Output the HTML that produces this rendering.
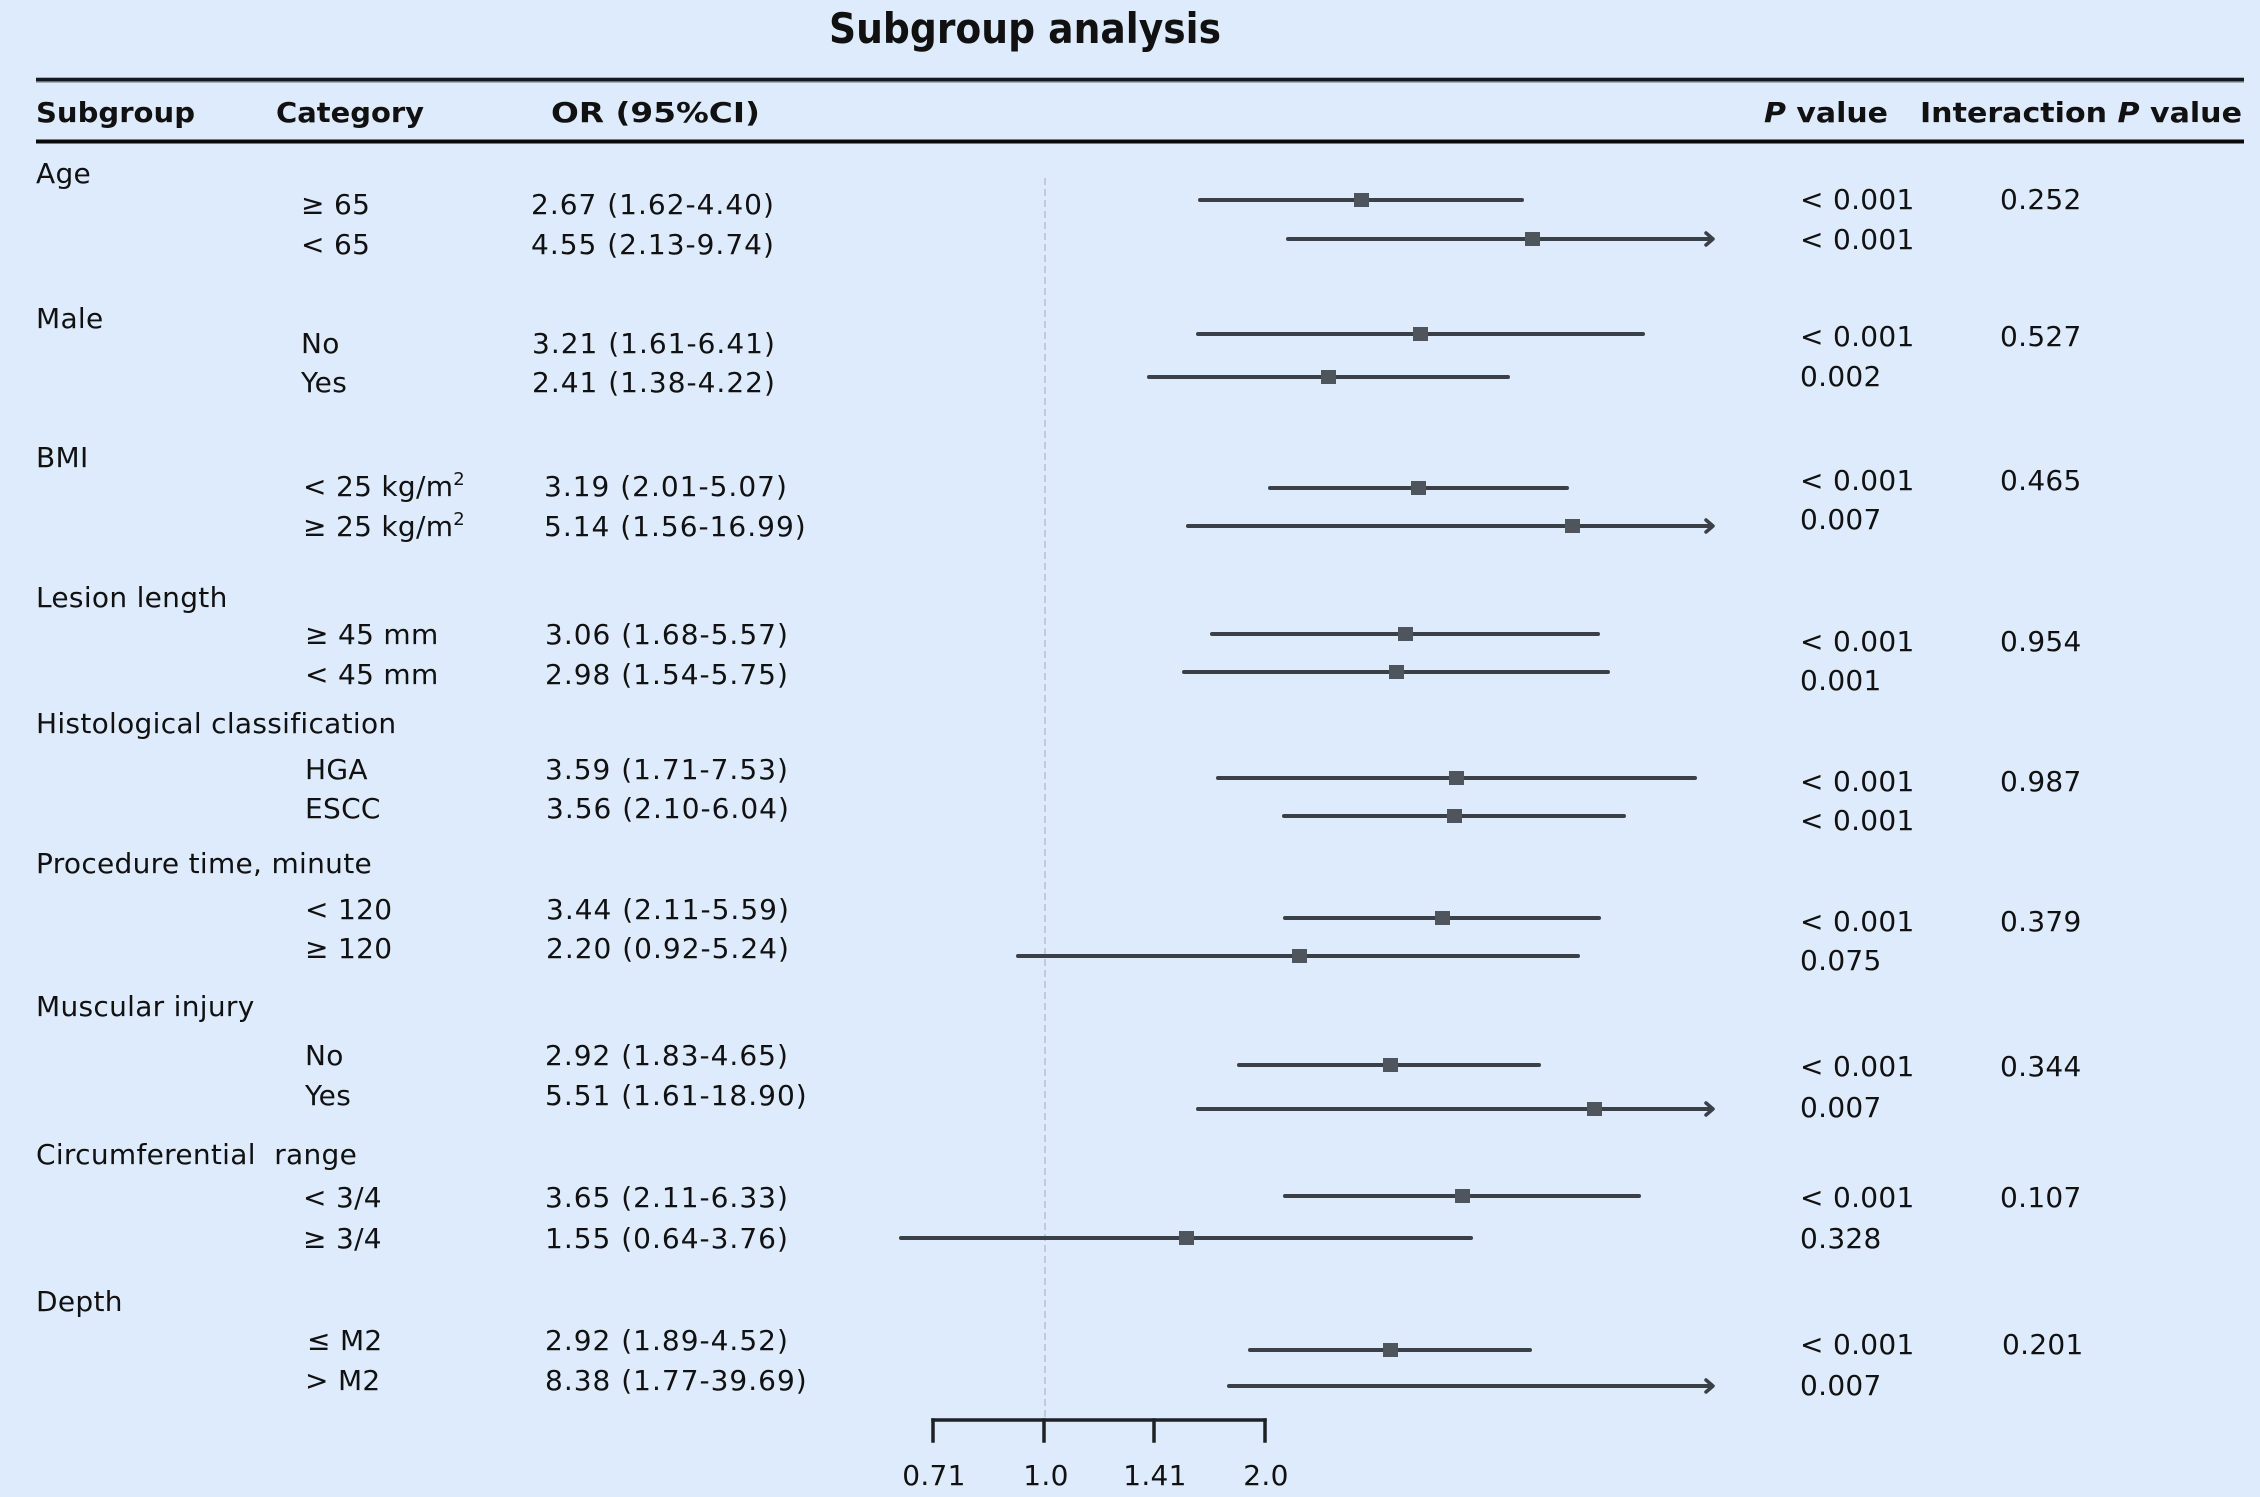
<!DOCTYPE html>
<html>
<head>
<meta charset="utf-8">
<style>
  html, body { margin:0; padding:0; background:#deebfc; }
  svg { display:block; }
  text { font-family: "DejaVu Sans", "Liberation Sans", sans-serif; fill:#111; }
  .b { font-size:28px; letter-spacing:0.3px; }
  .o { font-size:28px; letter-spacing:1px; }
  .h { font-size:28px; font-weight:bold; }
</style>
</head>
<body>
<svg width="2260" height="1497" viewBox="0 0 2260 1497" xmlns="http://www.w3.org/2000/svg">
  <rect x="0" y="0" width="2260" height="1497" fill="#deebfc"/>

  <!-- Title -->
  <text x="1025" y="43" text-anchor="middle" font-size="42" font-weight="bold" textLength="392" lengthAdjust="spacingAndGlyphs">Subgroup analysis</text>

  <!-- Rules -->
  <line x1="36" y1="80" x2="2244" y2="80" stroke="#6b7078" stroke-width="5"/>
  <line x1="36" y1="79.5" x2="2244" y2="79.5" stroke="#15181c" stroke-width="3"/>
  <line x1="36" y1="141.5" x2="2244" y2="141.5" stroke="#0a0a0a" stroke-width="4"/>

  <!-- Header -->
  <text class="h" x="36" y="122" textLength="159" lengthAdjust="spacingAndGlyphs">Subgroup</text>
  <text class="h" x="276" y="122" textLength="148" lengthAdjust="spacingAndGlyphs">Category</text>
  <text class="h" x="551" y="122" textLength="209" lengthAdjust="spacingAndGlyphs">OR (95%CI)</text>
  <text class="h" x="1764" y="122" textLength="124" lengthAdjust="spacingAndGlyphs"><tspan font-style="italic">P</tspan> value</text>
  <text class="h" x="1920" y="122" textLength="322" lengthAdjust="spacingAndGlyphs">Interaction <tspan font-style="italic">P</tspan> value</text>

  <!-- Subgroup labels -->
  <text class="b" x="36" y="183">Age</text>
  <text class="b" x="36" y="328">Male</text>
  <text class="b" x="36" y="467">BMI</text>
  <text class="b" x="36" y="607">Lesion length</text>
  <text class="b" x="36" y="733">Histological classification</text>
  <text class="b" x="36" y="873">Procedure time, minute</text>
  <text class="b" x="36" y="1016">Muscular injury</text>
  <text class="b" x="36" y="1164" xml:space="preserve">Circumferential  range</text>
  <text class="b" x="36" y="1311">Depth</text>

  <!-- Categories -->
  <text class="b" x="301" y="214">≥ 65</text>
  <text class="b" x="301" y="254">&lt; 65</text>
  <text class="b" x="301" y="353">No</text>
  <text class="b" x="301" y="392">Yes</text>
  <text class="b" x="303" y="496">&lt; 25 kg/m<tspan font-size="18" dy="-11">2</tspan></text>
  <text class="b" x="303" y="536">≥ 25 kg/m<tspan font-size="18" dy="-11">2</tspan></text>
  <text class="b" x="305" y="644">≥ 45 mm</text>
  <text class="b" x="305" y="684">&lt; 45 mm</text>
  <text class="b" x="305" y="779">HGA</text>
  <text class="b" x="305" y="818">ESCC</text>
  <text class="b" x="305" y="919">&lt; 120</text>
  <text class="b" x="305" y="958">≥ 120</text>
  <text class="b" x="305" y="1065">No</text>
  <text class="b" x="305" y="1105">Yes</text>
  <text class="b" x="303" y="1207">&lt; 3/4</text>
  <text class="b" x="303" y="1248">≥ 3/4</text>
  <text class="b" x="307" y="1350">≤ M2</text>
  <text class="b" x="305" y="1390">&gt; M2</text>

  <!-- OR values -->
  <text class="o" x="531" y="214">2.67 (1.62-4.40)</text>
  <text class="o" x="531" y="254">4.55 (2.13-9.74)</text>
  <text class="o" x="532" y="353">3.21 (1.61-6.41)</text>
  <text class="o" x="532" y="392">2.41 (1.38-4.22)</text>
  <text class="o" x="544" y="496">3.19 (2.01-5.07)</text>
  <text class="o" x="544" y="536">5.14 (1.56-16.99)</text>
  <text class="o" x="545" y="644">3.06 (1.68-5.57)</text>
  <text class="o" x="545" y="684">2.98 (1.54-5.75)</text>
  <text class="o" x="545" y="779">3.59 (1.71-7.53)</text>
  <text class="o" x="546" y="818">3.56 (2.10-6.04)</text>
  <text class="o" x="546" y="919">3.44 (2.11-5.59)</text>
  <text class="o" x="546" y="958">2.20 (0.92-5.24)</text>
  <text class="o" x="545" y="1065">2.92 (1.83-4.65)</text>
  <text class="o" x="545" y="1105">5.51 (1.61-18.90)</text>
  <text class="o" x="545" y="1207">3.65 (2.11-6.33)</text>
  <text class="o" x="545" y="1248">1.55 (0.64-3.76)</text>
  <text class="o" x="545" y="1350">2.92 (1.89-4.52)</text>
  <text class="o" x="545" y="1390">8.38 (1.77-39.69)</text>

  <!-- P values -->
  <text class="b" x="1800" y="209">&lt; 0.001</text>
  <text class="b" x="1800" y="249">&lt; 0.001</text>
  <text class="b" x="1800" y="346">&lt; 0.001</text>
  <text class="b" x="1800" y="386">0.002</text>
  <text class="b" x="1800" y="490">&lt; 0.001</text>
  <text class="b" x="1800" y="529">0.007</text>
  <text class="b" x="1800" y="651">&lt; 0.001</text>
  <text class="b" x="1800" y="690">0.001</text>
  <text class="b" x="1800" y="791">&lt; 0.001</text>
  <text class="b" x="1800" y="830">&lt; 0.001</text>
  <text class="b" x="1800" y="931">&lt; 0.001</text>
  <text class="b" x="1800" y="970">0.075</text>
  <text class="b" x="1800" y="1076">&lt; 0.001</text>
  <text class="b" x="1800" y="1117">0.007</text>
  <text class="b" x="1800" y="1207">&lt; 0.001</text>
  <text class="b" x="1800" y="1248">0.328</text>
  <text class="b" x="1800" y="1354">&lt; 0.001</text>
  <text class="b" x="1800" y="1395">0.007</text>

  <!-- Interaction P values -->
  <text class="b" x="2000" y="209">0.252</text>
  <text class="b" x="2000" y="346">0.527</text>
  <text class="b" x="2000" y="490">0.465</text>
  <text class="b" x="2000" y="651">0.954</text>
  <text class="b" x="2000" y="791">0.987</text>
  <text class="b" x="2000" y="931">0.379</text>
  <text class="b" x="2000" y="1076">0.344</text>
  <text class="b" x="2000" y="1207">0.107</text>
  <text class="b" x="2002" y="1354">0.201</text>

  <!-- Reference line at OR = 1 -->
  <line x1="1045" y1="178" x2="1045" y2="1418" stroke="#c3cad6" stroke-width="2" stroke-dasharray="7,4"/>

  <!-- CI lines -->
  <g stroke="#3b4046" stroke-width="4" stroke-linecap="round" fill="none">
    <line x1="1200" y1="200" x2="1522" y2="200"/>
    <line x1="1288" y1="239" x2="1710" y2="239"/>
    <line x1="1198" y1="334" x2="1643" y2="334"/>
    <line x1="1149" y1="377" x2="1508" y2="377"/>
    <line x1="1270" y1="488" x2="1567" y2="488"/>
    <line x1="1188" y1="526" x2="1710" y2="526"/>
    <line x1="1212" y1="634" x2="1598" y2="634"/>
    <line x1="1184" y1="672" x2="1608" y2="672"/>
    <line x1="1218" y1="778" x2="1695" y2="778"/>
    <line x1="1284" y1="816" x2="1624" y2="816"/>
    <line x1="1285" y1="918" x2="1599" y2="918"/>
    <line x1="1018" y1="956" x2="1578" y2="956"/>
    <line x1="1239" y1="1065" x2="1539" y2="1065"/>
    <line x1="1198" y1="1109" x2="1710" y2="1109"/>
    <line x1="1285" y1="1196" x2="1639" y2="1196"/>
    <line x1="901" y1="1238" x2="1471" y2="1238"/>
    <line x1="1250" y1="1350" x2="1530" y2="1350"/>
    <line x1="1229" y1="1386" x2="1710" y2="1386"/>
  </g>

  <!-- Arrow heads -->
  <g stroke="#3b4046" stroke-width="3.5" stroke-linecap="round" stroke-linejoin="round" fill="none">
    <path d="M1706,233 L1713,239 L1706,245"/>
    <path d="M1706,520 L1713,526 L1706,532"/>
    <path d="M1706,1103 L1713,1109 L1706,1115"/>
    <path d="M1706,1380 L1713,1386 L1706,1392"/>
  </g>

  <!-- Point estimates -->
  <g fill="#4f555c">
    <rect x="1354" y="193" width="15" height="14"/>
    <rect x="1525" y="232" width="15" height="14"/>
    <rect x="1413" y="327" width="15" height="14"/>
    <rect x="1321" y="370" width="15" height="14"/>
    <rect x="1411" y="481" width="15" height="14"/>
    <rect x="1565" y="519" width="15" height="14"/>
    <rect x="1398" y="627" width="15" height="14"/>
    <rect x="1389" y="665" width="15" height="14"/>
    <rect x="1449" y="771" width="15" height="14"/>
    <rect x="1447" y="809" width="15" height="14"/>
    <rect x="1435" y="911" width="15" height="14"/>
    <rect x="1292" y="949" width="15" height="14"/>
    <rect x="1383" y="1058" width="15" height="14"/>
    <rect x="1587" y="1102" width="15" height="14"/>
    <rect x="1455" y="1189" width="15" height="14"/>
    <rect x="1179" y="1231" width="15" height="14"/>
    <rect x="1383" y="1343" width="15" height="14"/>
  </g>

  <!-- Axis -->
  <g stroke="#1e2226" stroke-width="3.5" fill="none" stroke-linecap="square">
    <line x1="933" y1="1420" x2="1265" y2="1420"/>
    <line x1="933" y1="1420" x2="933" y2="1441"/>
    <line x1="1044" y1="1420" x2="1044" y2="1441"/>
    <line x1="1154" y1="1420" x2="1154" y2="1441"/>
    <line x1="1265" y1="1420" x2="1265" y2="1441"/>
  </g>
  <text class="b" x="934" y="1485" text-anchor="middle">0.71</text>
  <text class="b" x="1046" y="1485" text-anchor="middle">1.0</text>
  <text class="b" x="1155" y="1485" text-anchor="middle">1.41</text>
  <text class="b" x="1266" y="1485" text-anchor="middle">2.0</text>
</svg>
</body>
</html>
